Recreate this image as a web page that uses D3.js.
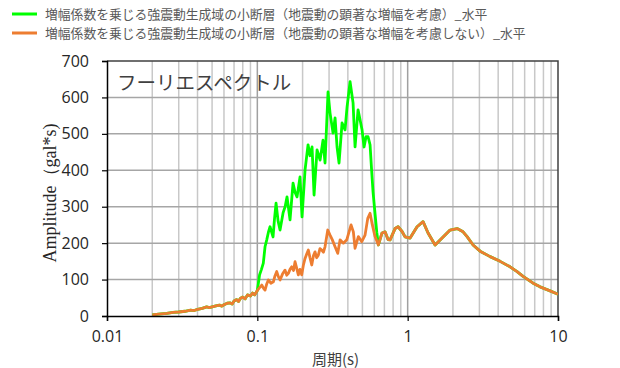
<!DOCTYPE html>
<html>
<head>
<meta charset="utf-8">
<script src="https://cdn.jsdelivr.net/npm/d3@7"></script>
<style>
  html, body { margin: 0; padding: 0; background: #fff; }
  svg { display: block; }
</style>
</head>
<body>
<svg id="chart" width="620" height="368"></svg>
<script>
// Fourier spectrum (horizontal) — period [s] vs amplitude [gal*s]

// Short-period part (both cases coincide)
const periodLow = [0.02,0.022,0.025,0.0275,0.03,0.033,0.036,0.038,0.04,0.043,0.046,0.048,0.05,0.053,0.056,0.058,0.06,0.063,0.066,0.068,0.07,0.073,0.075,0.077,0.08,0.083,0.086,0.09,0.093,0.096];
const ampLow    = [3,5,7,10,11,13,16,15,18,21,25,23,25,28,30,27,31,35,36,33,41,45,40,48,52,47,58,55,63,58];

// Amplified case (green) between 0.1 s and ~0.64 s
const periodAmplified = [0.1,0.1035,0.1065,0.1096,0.1125,0.1155,0.1185,0.1215,0.1272,0.13,0.1332,0.1375,0.1416,0.1483,0.153,0.1576,0.165,0.1728,0.178,0.1837,0.1923,0.1983,0.2077,0.2175,0.224,0.2312,0.2384,0.2496,0.2614,0.2736,0.282,0.2953,0.3046,0.3189,0.3289,0.3391,0.3496,0.3661,0.3832,0.3953,0.4139,0.4333,0.4467,0.4677,0.4972,0.5128,0.5286,0.5452,0.5621,0.5757,0.5886,0.6068,0.623,0.6387];
const ampAmplified    = [70,113,128,145,190,209,230,245,217,265,310,260,236,283,300,327,264,365,340,327,382,272,401,470,440,464,332,456,428,483,420,615,557,502,544,464,420,530,511,574,643,585,464,566,511,464,492,492,470,400,340,280,230,195];

// Non-amplified case (orange) between 0.1 s and ~0.64 s
const periodPlain = [0.1,0.1035,0.107,0.11,0.1125,0.1155,0.1184,0.123,0.1278,0.131,0.1346,0.138,0.1416,0.147,0.1529,0.157,0.1608,0.165,0.1694,0.174,0.1782,0.183,0.1874,0.192,0.1974,0.2025,0.2077,0.213,0.2184,0.224,0.2301,0.236,0.242,0.248,0.2545,0.261,0.2682,0.275,0.282,0.2941,0.3046,0.3155,0.3289,0.3427,0.355,0.3735,0.3934,0.4202,0.4353,0.4467,0.4699,0.495,0.5206,0.5427,0.5621,0.5822,0.6068,0.6387];
const ampPlain    = [70,78,85,76,71,88,99,90,94,110,122,108,99,115,126,112,117,128,135,125,149,130,113,128,113,140,158,170,181,160,140,165,176,160,167,185,181,175,190,236,222,209,190,172,209,200,209,250,231,186,218,204,222,268,282,250,218,195];

// Long-period part (both cases coincide)
const periodHigh = [0.6753,0.7072,0.7406,0.7637,0.8245,0.8636,0.9178,0.961,1.038,1.155,1.266,1.367,1.522,1.694,1.915,2.132,2.337,2.485,2.723,3.032,3.535,4.12,4.8,5.345,5.86,6.83,7.6,8.86,10];
const ampHigh    = [228,231,210,209,240,245,232,217,214,245,259,228,195,214,236,240,231,218,195,178,163,150,135,122,109,90,80,69,60];

const xTickValues = [0.01, 0.1, 1, 10];
const xTickLabels = ["0.01", "0.1", "1", "10"];
const yTickValues = [0, 100, 200, 300, 400, 500, 600, 700];

const seriesNames = [
  "増幅係数を乗じる強震動生成域の小断層（地震動の顕著な増幅を考慮）_水平",
  "増幅係数を乗じる強震動生成域の小断層（地震動の顕著な増幅を考慮しない）_水平"
];
const seriesColors = ["#00ff00", "#ed7d31"];

const chartTitle = "フーリエスペクトル";
const xTitle = "周期(s)";
const yTitle = "Amplitude（gal*s)";

function zip(p, a) { return p.map((d, i) => ({ t: d, v: a[i] })); }
const greenSeries = [].concat(zip(periodLow, ampLow), zip(periodAmplified, ampAmplified), zip(periodHigh, ampHigh));
const orangeSeries = [].concat(zip(periodLow, ampLow), zip(periodPlain, ampPlain), zip(periodHigh, ampHigh));

const svg = d3.select("#chart");
const plot = { left: 107, right: 558, top: 61, bottom: 316 };

const x = d3.scaleLog().domain([0.01, 10]).range([plot.left, plot.right]);
const y = d3.scaleLinear().domain([0, 700]).range([plot.bottom, plot.top]);

const tickFont = "'Open Sans', 'Liberation Sans', sans-serif";

// Vertical grid: minor lines (2..9 per decade) and decade lines
const minorT = [];
for (let e = -2; e < 1; e++) for (let k = 2; k <= 9; k++) minorT.push(k * Math.pow(10, e));
svg.append("g").selectAll("line").data(minorT).join("line")
  .attr("x1", d => x(d)).attr("x2", d => x(d))
  .attr("y1", plot.top).attr("y2", plot.bottom)
  .attr("stroke", "#c8c8c8").attr("stroke-width", 1.5);
svg.append("g").selectAll("line").data([0.1, 1]).join("line")
  .attr("x1", d => x(d)).attr("x2", d => x(d))
  .attr("y1", plot.top).attr("y2", plot.bottom)
  .attr("stroke", "#a0a0a0").attr("stroke-width", 1.5);

// Horizontal grid
svg.append("g").selectAll("line").data(yTickValues.slice(1, -1)).join("line")
  .attr("x1", plot.left).attr("x2", plot.right)
  .attr("y1", d => y(d)).attr("y2", d => y(d))
  .attr("stroke", "#a6a6a6").attr("stroke-width", 1.5);

// Plot frame (top & right)
svg.append("path")
  .attr("d", `M${plot.left},${plot.top}H${plot.right}V${plot.bottom}`)
  .attr("fill", "none").attr("stroke", "#404040").attr("stroke-width", 1.5);

// Title inside the plot
svg.append("text")
  .attr("x", 117).attr("y", 90)
  .attr("font-family", "'Noto Sans CJK JP', sans-serif")
  .attr("font-size", 19.5).attr("fill", "#404040")
  .text(chartTitle);

// Data lines
svg.append("clipPath").attr("id", "plotClip").append("rect")
  .attr("x", plot.left).attr("y", plot.top - 2)
  .attr("width", plot.right - plot.left).attr("height", plot.bottom - plot.top + 2);

const line = d3.line().x(d => x(d.t)).y(d => y(d.v)).curve(d3.curveLinear);
const lines = svg.append("g").attr("clip-path", "url(#plotClip)");
lines.append("path").datum(greenSeries).attr("d", line)
  .attr("fill", "none").attr("stroke", seriesColors[0]).attr("stroke-width", 2.8)
  .attr("stroke-linejoin", "round");
lines.append("path").datum(orangeSeries).attr("d", line)
  .attr("fill", "none").attr("stroke", seriesColors[1]).attr("stroke-width", 2.8)
  .attr("stroke-linejoin", "round");

// Axes
const yAxis = d3.axisLeft(y).tickValues(yTickValues).tickSize(5).tickPadding(13).tickFormat(d3.format("d"));
const gy = svg.append("g").attr("transform", `translate(${plot.left},0)`).call(yAxis);
gy.select(".domain").attr("stroke", "#000").attr("stroke-width", 1.5);
gy.selectAll(".tick line").attr("stroke", "#000").attr("stroke-width", 1.2);
gy.selectAll(".tick text").attr("font-family", tickFont).attr("font-size", 16).attr("fill", "#262626");

const xAxis = d3.axisBottom(x).tickValues(xTickValues).tickSize(5).tickPadding(10)
  .tickFormat((d, i) => xTickLabels[i]);
const gx = svg.append("g").attr("transform", `translate(0,${plot.bottom})`).call(xAxis);
gx.select(".domain").attr("stroke", "#000").attr("stroke-width", 1.5);
gx.selectAll(".tick line").attr("stroke", "#000").attr("stroke-width", 1.2);
gx.selectAll(".tick text").attr("font-family", tickFont).attr("font-size", 16).attr("fill", "#262626");

// Axis titles
svg.append("text")
  .attr("x", (plot.left + plot.right) / 2 + 3).attr("y", 365)
  .attr("text-anchor", "middle")
  .attr("font-family", "'Noto Sans CJK JP', sans-serif")
  .attr("font-size", 15).attr("fill", "#404040")
  .text(xTitle);

svg.append("text")
  .attr("transform", `translate(56,193) rotate(-90)`)
  .attr("text-anchor", "middle")
  .attr("font-family", "'Liberation Serif', 'DejaVu Serif', serif")
  .attr("font-size", 18).attr("fill", "#262626")
  .text(yTitle);

// Legend
const legend = svg.append("g");
seriesNames.forEach((name, i) => {
  const ly = 14 + i * 19;
  legend.append("line")
    .attr("x1", 12).attr("x2", 37).attr("y1", ly).attr("y2", ly)
    .attr("stroke", seriesColors[i]).attr("stroke-width", 3);
  legend.append("text")
    .attr("x", 45).attr("y", ly).attr("dy", "0.36em")
    .attr("font-family", "'Noto Sans CJK JP', sans-serif")
    .attr("font-size", 12.8).attr("fill", "#595959")
    .text(name);
});
</script>
</body>
</html>
